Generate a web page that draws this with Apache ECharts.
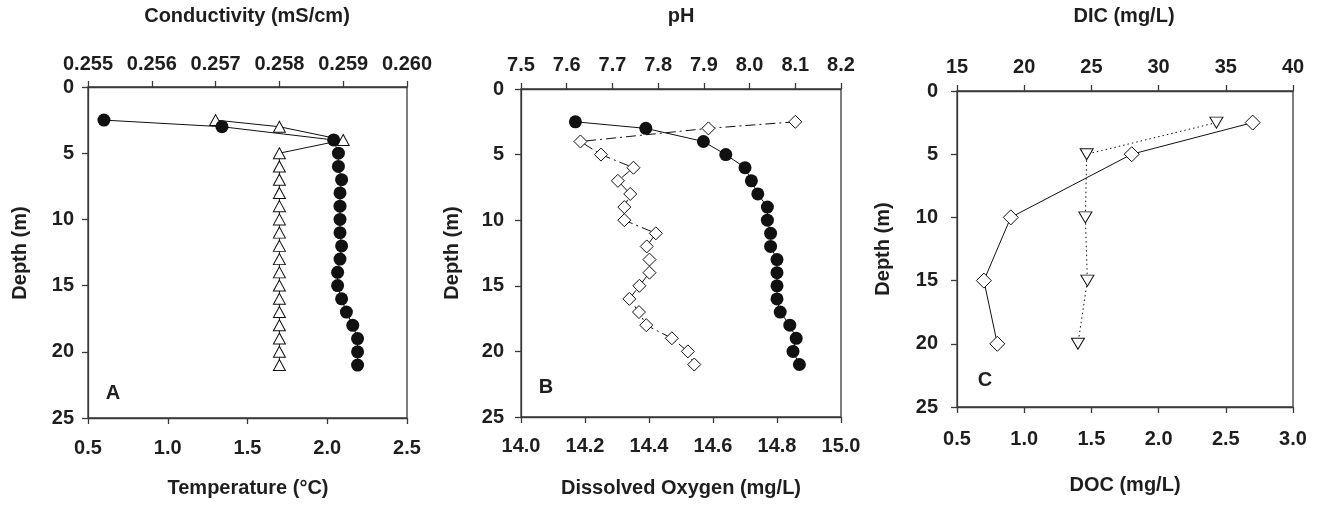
<!DOCTYPE html>
<html>
<head>
<meta charset="utf-8">
<script src="https://cdn.jsdelivr.net/npm/echarts@6/dist/echarts.min.js"></script>
<style>
html,body{margin:0;padding:0;background:#fff;}
#chart{width:1321px;height:508px;}
</style>
</head>
<body>
<div id="chart"></div>
<script>
// Panel A
const depthA = [2.5, 3, 4, 5, 6, 7, 8, 9, 10, 11, 12, 13, 14, 15, 16, 17, 18, 19, 20, 21];
const temperatureA = [0.60, 1.34, 2.04, 2.07, 2.07, 2.09, 2.08, 2.08, 2.08, 2.08, 2.09, 2.08, 2.065, 2.065, 2.09, 2.12, 2.16, 2.19, 2.19, 2.19];
const conductivityA = [0.2570, 0.2580, 0.2590, 0.2580, 0.2580, 0.2580, 0.2580, 0.2580, 0.2580, 0.2580, 0.2580, 0.2580, 0.2580, 0.2580, 0.2580, 0.2580, 0.2580, 0.2580, 0.2580, 0.2580];
// Panel B
const depthB = [2.5, 3, 4, 5, 6, 7, 8, 9, 10, 11, 12, 13, 14, 15, 16, 17, 18, 19, 20, 21];
const oxygenB = [14.17, 14.39, 14.57, 14.64, 14.70, 14.72, 14.74, 14.77, 14.77, 14.78, 14.78, 14.80, 14.80, 14.80, 14.80, 14.81, 14.84, 14.86, 14.85, 14.87];
const phB = [8.10, 7.91, 7.63, 7.675, 7.746, 7.712, 7.739, 7.726, 7.726, 7.795, 7.775, 7.781, 7.781, 7.759, 7.737, 7.758, 7.774, 7.83, 7.865, 7.879];
// Panel C
const depthC = [2.5, 5, 10, 15, 20];
const docC = [2.7, 1.8, 0.9, 0.7, 0.8];
const dicC = [34.3, 24.65, 24.55, 24.7, 24.0];

// Axis ranges [min, max, interval, decimals]
const tempRange = [0.5, 2.5, 0.5, 1];
const condRange = [0.255, 0.260, 0.001, 3];
const oxyRange = [14.0, 15.0, 0.2, 1];
const phRange = [7.5, 8.2, 0.1, 1];
const docRange = [0.5, 3.0, 0.5, 1];
const dicRange = [15, 40, 5, 0];
const depthRange = [0, 25, 5, 0];

const FONT = '"Liberation Sans", Arial, Helvetica, sans-serif';
const TXT = '#1e1e1e';
const AX = '#3a3a3a';
const LINE = '#111';

function zip(xs, ys) { return xs.map((x, i) => [x, ys[i]]); }

function xAxis(gridIndex, range, position, margin) {
  return {
    type: 'value', gridIndex, position,
    min: range[0], max: range[1], interval: range[2],
    axisLine: { show: true, onZero: false, lineStyle: { color: AX, width: 1.3 } },
    axisTick: { show: true, length: 6, lineStyle: { color: AX, width: 1.3 } },
    splitLine: { show: false },
    axisLabel: {
      margin, color: TXT, fontFamily: FONT, fontWeight: 'bold', fontSize: 20,
      formatter: v => Number(v).toFixed(range[3])
    }
  };
}
function yAxis(gridIndex, margin) {
  return {
    type: 'value', gridIndex, inverse: true,
    min: depthRange[0], max: depthRange[1], interval: depthRange[2],
    axisLine: { show: true, onZero: false, lineStyle: { color: AX, width: 1.3 } },
    axisTick: { show: true, length: 6, lineStyle: { color: AX, width: 1.3 } },
    splitLine: { show: false },
    axisLabel: { margin, color: TXT, fontFamily: FONT, fontWeight: 'bold', fontSize: 20 }
  };
}
function gridBox(left, top, width, height) {
  return { left, top, width, height, show: true, borderColor: AX, borderWidth: 1.3, backgroundColor: 'transparent' };
}
function txt(text, x, y, rot) {
  return {
    type: 'text', x, y, rotation: rot || 0, silent: true,
    style: { text, fill: TXT, font: 'bold 20px ' + FONT, align: 'center', verticalAlign: 'middle' }
  };
}

const openStyle = { color: '#fff', borderColor: LINE, borderWidth: 1 };

const option = {
  animation: false,
  backgroundColor: '#fff',
  grid: [
    gridBox(88, 87, 319, 331),
    gridBox(521, 89, 320, 328),
    gridBox(957, 91, 336, 316)
  ],
  xAxis: [
    xAxis(0, tempRange, 'bottom', 20),
    xAxis(0, condRange, 'top', 13),
    xAxis(1, oxyRange, 'bottom', 19),
    xAxis(1, phRange, 'top', 14),
    xAxis(2, docRange, 'bottom', 22),
    xAxis(2, dicRange, 'top', 14)
  ],
  yAxis: [yAxis(0, 14), yAxis(1, 17), yAxis(2, 19)],
  series: [
    { type: 'line', xAxisIndex: 1, yAxisIndex: 0, data: zip(conductivityA, depthA),
      symbol: 'triangle', symbolSize: [12, 11], itemStyle: openStyle,
      lineStyle: { color: LINE, width: 1 }, z: 2 },
    { type: 'line', xAxisIndex: 0, yAxisIndex: 0, data: zip(temperatureA, depthA),
      symbol: 'circle', symbolSize: 13, itemStyle: { color: LINE },
      lineStyle: { color: LINE, width: 1 }, z: 3 },
    { type: 'line', xAxisIndex: 3, yAxisIndex: 1, data: zip(phB, depthB),
      symbol: 'diamond', symbolSize: 13, itemStyle: openStyle,
      lineStyle: { color: LINE, width: 1, type: [10, 4, 2, 4] }, z: 2 },
    { type: 'line', xAxisIndex: 2, yAxisIndex: 1, data: zip(oxygenB, depthB),
      symbol: 'circle', symbolSize: 13, itemStyle: { color: LINE },
      lineStyle: { color: LINE, width: 1 }, z: 3 },
    { type: 'line', xAxisIndex: 5, yAxisIndex: 2, data: zip(dicC, depthC),
      symbol: 'triangle', symbolRotate: 180, symbolSize: [13, 11], itemStyle: openStyle,
      lineStyle: { color: LINE, width: 1, type: [1.5, 3] }, z: 2 },
    { type: 'line', xAxisIndex: 4, yAxisIndex: 2, data: zip(docC, depthC),
      symbol: 'diamond', symbolSize: 15, itemStyle: openStyle,
      lineStyle: { color: LINE, width: 1 }, z: 3 }
  ],
  graphic: [
    txt('Conductivity (mS/cm)', 247, 16),
    txt('Temperature (\u00B0C)', 248, 488),
    txt('Depth (m)', 20, 253, Math.PI / 2),
    txt('A', 113, 393),
    txt('pH', 681, 16),
    txt('Dissolved Oxygen (mg/L)', 681, 488),
    txt('Depth (m)', 452, 253, Math.PI / 2),
    txt('B', 546, 387),
    txt('DIC (mg/L)', 1124, 16),
    txt('DOC (mg/L)', 1125, 485),
    txt('Depth (m)', 883, 249, Math.PI / 2),
    txt('C', 985, 380)
  ]
};

const chart = echarts.init(document.getElementById('chart'), null, { renderer: 'canvas' });
chart.setOption(option);
</script>
</body>
</html>
